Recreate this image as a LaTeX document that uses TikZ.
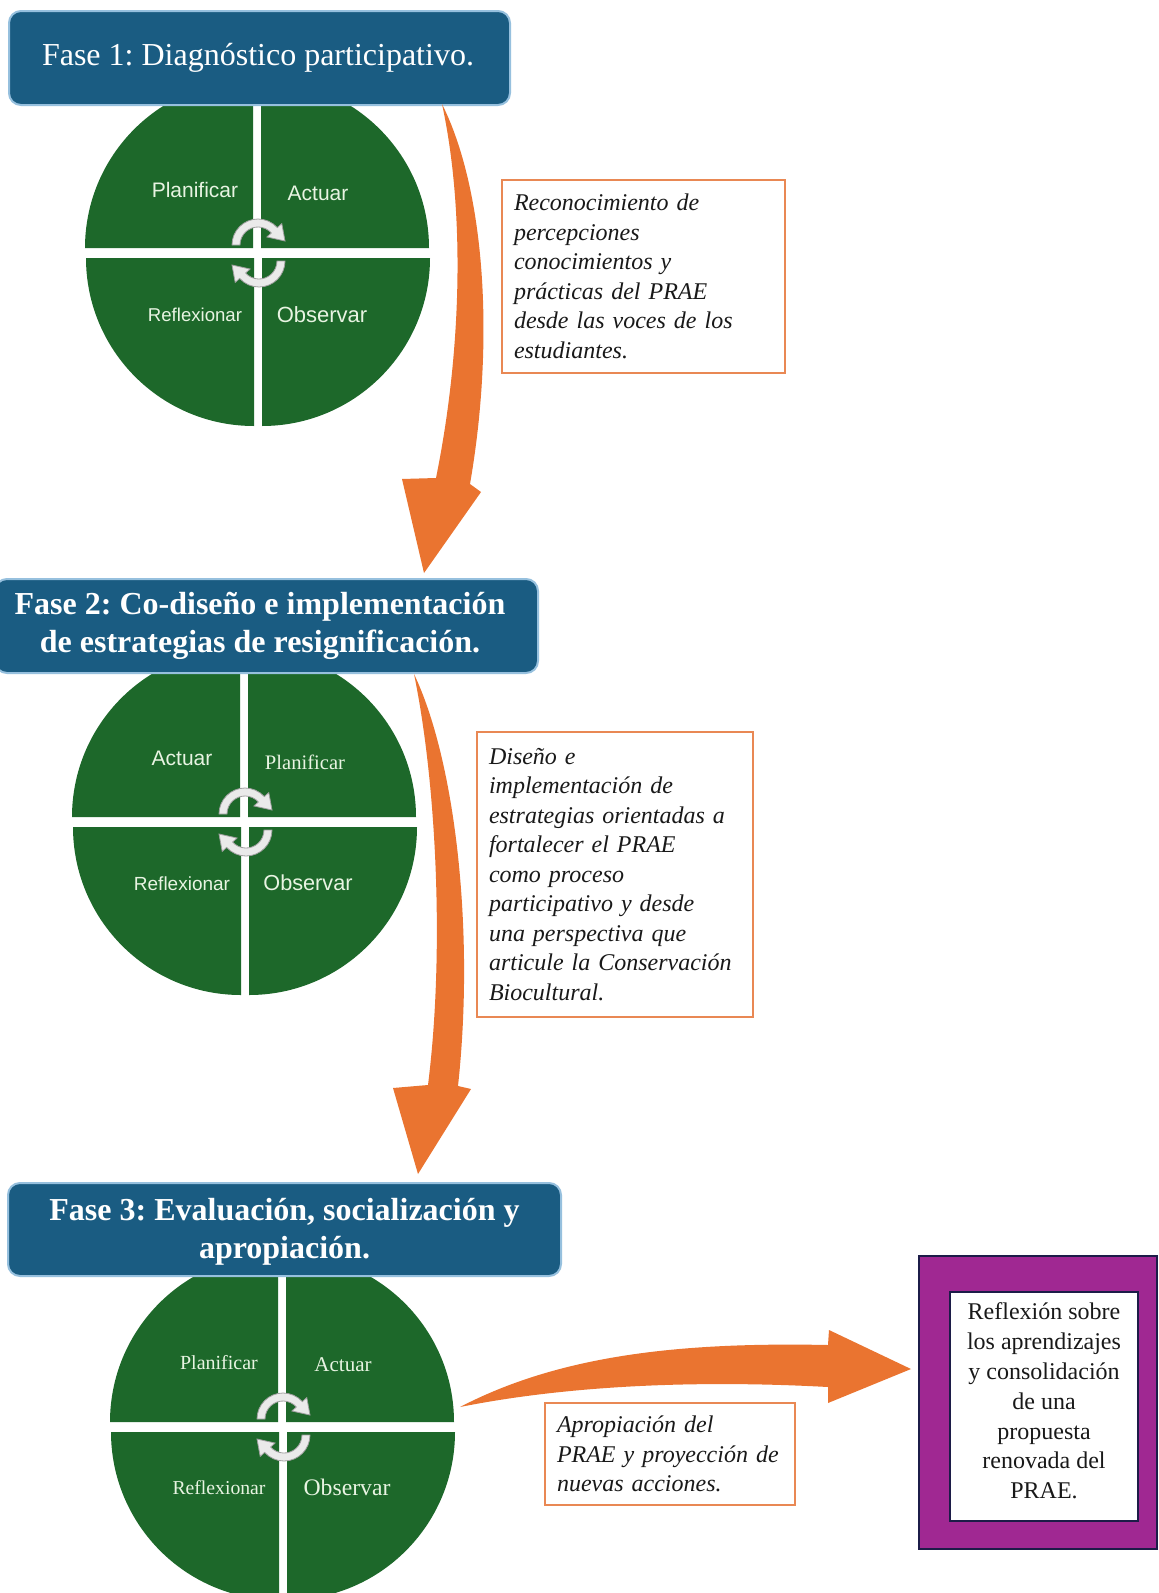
\documentclass[tikz,border=0pt]{standalone}
\usepackage{fontspec}
\setmainfont{Liberation Serif}
\newfontfamily\lsans{Liberation Sans}
\frenchspacing
\definecolor{qgreen}{RGB}{29,104,42}
\definecolor{qlabel}{RGB}{232,244,226}
\definecolor{hblue}{RGB}{26,92,130}
\definecolor{hedge}{RGB}{150,192,222}
\definecolor{aorange}{RGB}{234,116,48}
\definecolor{bedge}{RGB}{233,136,84}
\definecolor{ppurple}{RGB}{160,40,146}
\definecolor{pnavy}{RGB}{28,28,72}
\definecolor{ink}{RGB}{25,25,25}
\definecolor{icfill}{RGB}{234,234,234}
\definecolor{icedge}{RGB}{160,160,160}
\tikzset{
  quad/.style={fill=qgreen},
  qsans/.style={text=qlabel, font=\lsans\fontsize{#1}{#1}\selectfont, inner sep=0pt},
  qserif/.style={text=qlabel, font=\fontsize{#1}{#1}\selectfont, inner sep=0pt},
  header/.style={fill=hblue, draw=hedge, line width=2pt, rounded corners=12pt},
  htext/.style={text=white, align=center, inner sep=0pt},
  infobox/.style={draw=bedge, line width=1.3pt, fill=white, inner xsep=12pt, inner ysep=0pt,
    align=left, text=ink, font=\itshape\fontsize{24}{29.5}\selectfont},
  bigarrow/.style={fill=aorange},
  icon/.style={fill=icfill, draw=icedge, line width=0.8pt},
}
\newcommand\quadcircle[2]{%
  \begin{scope}[shift={(#1,#2)}]
    \fill[quad] (-4,-5) -- (-172,-5) arc[start angle=180,end angle=270,radius=168] -- cycle;
    \fill[quad] (4,-5) -- (4,-173) arc[start angle=270,end angle=360,radius=168] -- cycle;
    \fill[quad] (5,5) -- (173,5) arc[start angle=0,end angle=90,radius=168] -- cycle;
    \fill[quad] (-3,5) -- (-3,173) arc[start angle=90,end angle=180,radius=168] -- cycle;
    \begin{scope}[shift={(1,-8)}]
      \path[icon] (180:26) arc[start angle=180,end angle=318,radius=26] -- (318:32) -- (27,-4)
        -- (318:12) -- (318:18) arc[start angle=318,end angle=180,radius=18] -- cycle;
    \end{scope}
    \begin{scope}[rotate=180, shift={(-2,-8)}]
      \path[icon] (180:26) arc[start angle=180,end angle=318,radius=26] -- (318:32) -- (27,-4)
        -- (318:12) -- (318:18) arc[start angle=318,end angle=180,radius=18] -- cycle;
    \end{scope}
  \end{scope}}
\begin{document}
\begin{tikzpicture}[x=1pt,y=-1pt]
\useasboundingbox (0,0) rectangle (1159,1593);
\fill[white] (0,0) rectangle (1159,1593);

% ---------- circles ----------
\quadcircle{257}{253}
\node[qsans=21] (c1a) at (195,190) {Planificar};
\node[qsans=21] (c1b) at (318,193) {Actuar};
\node[qsans=18.6] (c1c) at (195,315) {Reflexionar};
\node[qsans=22] (c1d) at (322,315) {Observar};

\quadcircle{244}{822}
\node[qsans=21] (c2a) at (182,758) {Actuar};
\node[qserif=20.6] (c2b) at (305,762) {Planificar};
\node[qsans=19] (c2c) at (182,884) {Reflexionar};
\node[qsans=21.7] (c2d) at (308,883) {Observar};

\quadcircle{282}{1427}
\node[qserif=20] (c3a) at (219,1363) {Planificar};
\node[qserif=21] (c3b) at (343,1365) {Actuar};
\node[qserif=19.7] (c3c) at (219,1488) {Reflexionar};
\node[qserif=23.7] (c3d) at (347,1487) {Observar};

% ---------- headers ----------
\node[header, minimum width=501pt, minimum height=94pt] (h1) at (259.5,58) {};
\node[htext, font=\fontsize{32}{37}\selectfont] (h1t) at (258,58) {Fase 1: Diagnóstico participativo.};

\node[header, minimum width=543pt, minimum height=94pt] (h2) at (266.5,626) {};
\node[htext, font=\bfseries\fontsize{32}{38}\selectfont] (h2t) at (260,626)
  {Fase 2: Co-diseño e implementación\\de estrategias de resignificación.};

\node[header, minimum width=553pt, minimum height=93pt] (h3) at (284.5,1229.5) {};
\node[htext, font=\bfseries\fontsize{32}{38}\selectfont] (h3t) at (284.5,1232)
  {Fase 3: Evaluación, socialización y\\apropiación.};

% ---------- orange arrows ----------
\coordinate (a1tail) at (442,104);
\coordinate (a1tip) at (424,573);
\fill[bigarrow] (a1tail) .. controls (485,190) and (495,340) .. (470,484)
  -- (481,492) -- (a1tip) -- (402,479) -- (436,478)
  .. controls (462,350) and (465,210) .. (a1tail) -- cycle;

\coordinate (a2tail) at (414,674);
\coordinate (a2tip) at (418,1174);
\fill[bigarrow] (a2tail) .. controls (455,760) and (475,930) .. (458,1086)
  -- (471,1089) -- (a2tip) -- (393,1088) -- (428,1085)
  .. controls (445,950) and (436,780) .. (a2tail) -- cycle;

\coordinate (a3tail) at (460,1407);
\coordinate (a3tip) at (911,1369);
\fill[bigarrow] (a3tail) .. controls (560,1355) and (680,1342) .. (828,1345)
  -- (829,1330) -- (a3tip) -- (828,1403) -- (828,1387)
  .. controls (700,1380) and (570,1385) .. (a3tail) -- cycle;

% ---------- text boxes ----------
\node[infobox, text width=259pt, minimum height=193pt] (b1) at (643.5,276.5)
  {Reconocimiento de\\percepciones\\conocimientos y\\prácticas del PRAE\\desde las voces de los\\estudiantes.};
\node[infobox, text width=252pt, minimum height=285pt] (b2) at (615,874.5)
  {Diseño e\\implementación de\\estrategias orientadas a\\fortalecer el PRAE\\como proceso\\participativo y desde\\una perspectiva que\\articule la Conservación\\Biocultural.};
\node[infobox, text width=226pt, minimum height=102pt] (b3) at (670,1454)
  {Apropiación del\\PRAE y proyección de\\nuevas acciones.};

% ---------- final box ----------
\node[fill=ppurple, draw=pnavy, line width=1.5pt, minimum width=238pt, minimum height=293pt] (pout) at (1038,1402.5) {};
\node[fill=white, draw=pnavy, line width=2pt, minimum width=188pt, minimum height=229pt] (pin) at (1044,1406.5) {};
\node[align=center, text=ink, inner sep=0pt, font=\fontsize{24}{29.8}\selectfont] (ptext) at (1044,1401)
  {Reflexión sobre\\los aprendizajes\\y consolidación\\de una\\propuesta\\renovada del\\PRAE.};
\end{tikzpicture}
\end{document}
